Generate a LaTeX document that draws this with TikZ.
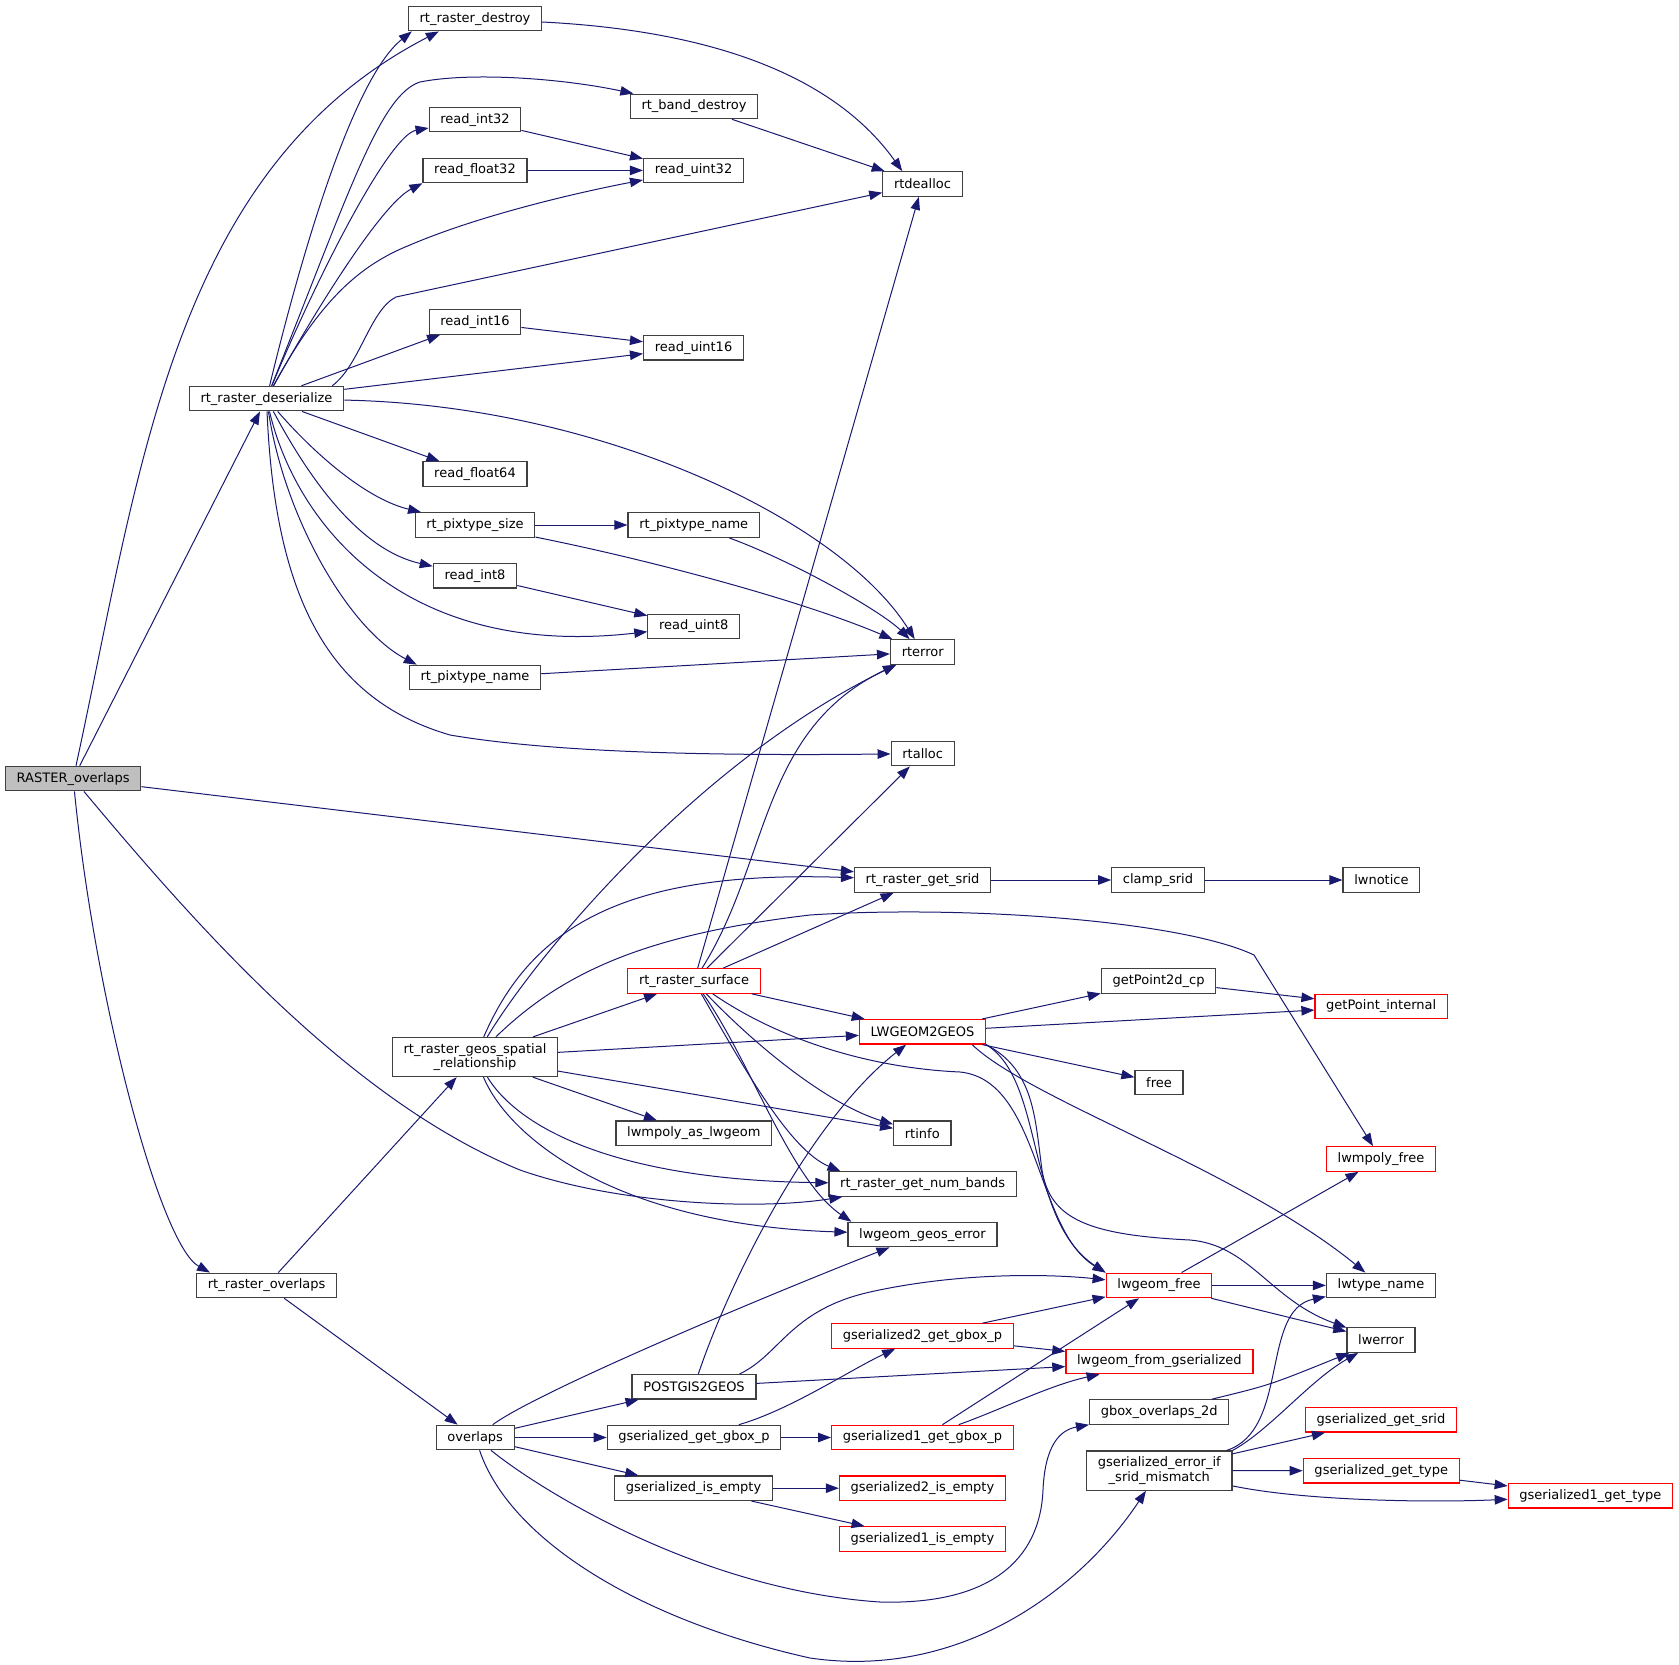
\documentclass[tikz,border=0pt]{standalone}
\usepackage{fontspec}
\setmainfont{DejaVu Sans}
\usetikzlibrary{arrows.meta}
\definecolor{edgeblue}{RGB}{25,25,112}
\definecolor{rootgray}{RGB}{191,191,191}
\definecolor{boxgray}{RGB}{64,64,64}

\begin{document}
\begin{tikzpicture}[x=1pt, y=-1pt,
    fn/.style={draw=boxgray, line width=1.2pt, fill=white, rectangle, inner xsep=11.2pt, inner ysep=2pt,
        minimum height=24.5pt, align=center, font=\fontsize{13}{14.6}\selectfont},
    trunc/.style={fn, draw=red},
    root/.style={fn, fill=rootgray},
    twoline/.style={minimum height=39.1pt},
    callarr/.style={draw=edgeblue, line width=1pt, -{Triangle[length=13pt,width=9.5pt]}}]
    \useasboundingbox (0,0) rectangle (1679,1665);

    \node[root] (rasov) at (73.2,778.6) {RASTER\_overlaps};
    \node[fn] (deser) at (266.5,398.6) {rt\_raster\_deserialize};
    \node[fn] (rovl) at (266.6,1285.4) {rt\_raster\_overlaps};
    \node[fn] (rdestroy) at (475,18.6) {rt\_raster\_destroy};
    \node[fn] (bdestroy) at (694,106.4) {rt\_band\_destroy};
    \node[fn] (ri32) at (475,119.6) {read\_int32};
    \node[fn] (rf32) at (475,170.4) {read\_float32};
    \node[fn] (ru32) at (693.5,170.4) {read\_uint32};
    \node[fn] (ri16) at (475,322) {read\_int16};
    \node[fn] (ru16) at (693.5,347.7) {read\_uint16};
    \node[fn] (rf64) at (475,474) {read\_float64};
    \node[fn] (ptsize) at (475,525) {rt\_pixtype\_size};
    \node[fn] (ptnamea) at (693.7,525) {rt\_pixtype\_name};
    \node[fn] (ri8) at (475,575.7) {read\_int8};
    \node[fn] (ptnameb) at (475,677.5) {rt\_pixtype\_name};
    \node[fn] (dealloc) at (922.5,184) {rtdealloc};
    \node[fn] (ru8) at (693.7,626.4) {read\_uint8};
    \node[fn] (rterr) at (922.7,652) {rterror};
    \node[fn] (ralloc) at (922.7,753.6) {rtalloc};
    \node[fn] (rsrid) at (922.6,880) {rt\_raster\_get\_srid};
    \node[trunc] (surf) at (694,981) {rt\_raster\_surface};
    \node[trunc] (l2g) at (922.5,1031.8) {LWGEOM2GEOS};
    \node[fn, twoline] (geosrel) at (475,1057) {rt\_raster\_geos\_spatial\\\_relationship};
    \node[fn] (clamp) at (1158,880) {clamp\_srid};
    \node[fn] (notice) at (1381.4,880) {lwnotice};
    \node[fn] (gp2d) at (1158.6,981) {getPoint2d\_cp};
    \node[trunc] (gpint) at (1381.2,1006.4) {getPoint\_internal};
    \node[fn] (free) at (1159,1082.5) {free};
    \node[fn] (mpasgeom) at (693.8,1133.2) {lwmpoly\_as\_lwgeom};
    \node[fn] (rinfo) at (922.3,1133.2) {rtinfo};
    \node[fn] (nbands) at (922.7,1184) {rt\_raster\_get\_num\_bands};
    \node[fn] (geoserr) at (922.5,1234.6) {lwgeom\_geos\_error};
    \node[trunc] (mpfree) at (1381,1159) {lwmpoly\_free};
    \node[trunc] (gfree) at (1159,1285.4) {lwgeom\_free};
    \node[fn] (tname) at (1381,1285.4) {lwtype\_name};
    \node[fn] (lwerr) at (1381,1340) {lwerror};
    \node[trunc] (g2gbox) at (922.5,1336) {gserialized2\_get\_gbox\_p};
    \node[trunc] (fromgs) at (1159.4,1361.5) {lwgeom\_from\_gserialized};
    \node[fn] (p2g) at (694,1386.8) {POSTGIS2GEOS};
    \node[fn] (gboxov) at (1159.2,1412) {gbox\_overlaps\_2d};
    \node[trunc] (getsrid) at (1381,1419.8) {gserialized\_get\_srid};
    \node[fn] (ovl) at (475.2,1437.5) {overlaps};
    \node[fn] (ggbox) at (694,1437.5) {gserialized\_get\_gbox\_p};
    \node[trunc] (g1gbox) at (922.5,1437.5) {gserialized1\_get\_gbox\_p};
    \node[fn, twoline] (sridmm) at (1159.3,1470.6) {gserialized\_error\_if\\\_srid\_mismatch};
    \node[trunc] (gettype) at (1381.3,1470.8) {gserialized\_get\_type};
    \node[trunc] (g1type) at (1590.4,1495.8) {gserialized1\_get\_type};
    \node[fn] (isempty) at (693.6,1488.2) {gserialized\_is\_empty};
    \node[trunc] (g2empty) at (922.4,1488.2) {gserialized2\_is\_empty};
    \node[trunc] (g1empty) at (922.4,1539) {gserialized1\_is\_empty};

    \draw[callarr] (rasov) .. controls (140,472) and (172,169) .. ([xshift=31pt]rdestroy.south west);
    \draw[callarr] (rasov) -- (deser);
    \draw[callarr] (rasov) -- (rsrid);
    \draw[callarr] (rasov) .. controls (200,930) and (350,1100) .. (520,1170) .. controls (620,1205) and (760,1210) .. (nbands);
    \draw[callarr] (rasov) .. controls (95,1000) and (160,1245) .. ([xshift=14pt]rovl.north west);

    \draw[callarr] (deser) .. controls (300,260) and (352,79) .. ([xshift=4pt]rdestroy.south west);
    \draw[callarr] (deser) .. controls (350,190) and (380,95) .. (420,82) .. controls (470,72) and (560,78) .. (bdestroy);
    \draw[callarr] (deser) .. controls (320,270) and (390,135) .. (ri32);
    \draw[callarr] (deser) .. controls (310,320) and (380,205) .. (rf32.south west);
    \draw[callarr] (deser) .. controls (320,300) and (360,265) .. (410,245) .. controls (480,215) and (580,192) .. (ru32);
    \draw[callarr] ([xshift=-12pt]deser.north east) .. controls (360,365) and (370,310) .. (396,297) -- (dealloc);
    \draw[callarr] (deser) -- (ri16);
    \draw[callarr] (deser) -- (ru16);
    \draw[callarr] (deser) .. controls (600,405) and (840,520) .. (rterr);
    \draw[callarr] (deser) -- (rf64);
    \draw[callarr] (deser) .. controls (320,460) and (370,500) .. (ptsize);
    \draw[callarr] (deser) .. controls (310,480) and (360,550) .. (ri8);
    \draw[callarr] (deser) .. controls (295,520) and (400,660) .. (ru8);
    \draw[callarr] (deser) .. controls (285,520) and (350,630) .. ([xshift=8pt]ptnameb.north west);
    \draw[callarr] (deser) .. controls (275,600) and (330,700) .. (450,735) .. controls (550,752) and (700,756) .. (ralloc);

    \draw[callarr] (ri32) -- (ru32);
    \draw[callarr] (rf32) -- (ru32);
    \draw[callarr] (ri16) -- (ru16);
    \draw[callarr] (ri8) -- (ru8);
    \draw[callarr] (ptsize) -- (ptnamea);
    \draw[callarr] (bdestroy) -- (dealloc);
    \draw[callarr] (rdestroy) .. controls (700,30) and (830,70) .. ([xshift=20pt]dealloc.north west);
    \draw[callarr] (ptsize) .. controls (650,560) and (800,600) .. (rterr);
    \draw[callarr] (ptnamea) .. controls (790,560) and (880,610) .. (rterr);
    \draw[callarr] (ptnameb) -- (rterr);

    \draw[callarr] (rovl) -- (geosrel);
    \draw[callarr] (rovl) -- (ovl);

    \draw[callarr] (geosrel) .. controls (540,950) and (700,760) .. (rterr);
    \draw[callarr] (geosrel) .. controls (530,930) and (620,870) .. (rsrid);
    \draw[callarr] (geosrel) .. controls (560,975) and (640,935) .. (810,915) .. controls (960,905) and (1180,920) .. (1254,955) -- (mpfree);
    \draw[callarr] (geosrel) -- (surf);
    \draw[callarr] (geosrel) -- (l2g);
    \draw[callarr] (geosrel) -- (rinfo);
    \draw[callarr] (geosrel) -- (mpasgeom);
    \draw[callarr] (geosrel) .. controls (520,1130) and (620,1180) .. (nbands);
    \draw[callarr] (geosrel) .. controls (510,1140) and (620,1225) .. (geoserr);

    \draw[callarr] (surf) -- (dealloc);
    \draw[callarr] (surf) .. controls (770,860) and (760,730) .. (rterr);
    \draw[callarr] (surf) -- (ralloc);
    \draw[callarr] (surf) -- (rsrid);
    \draw[callarr] (surf) -- (l2g);
    \draw[callarr] (surf) .. controls (780,1040) and (870,1068) .. (960,1072) .. controls (1040,1080) and (1035,1230) .. (gfree.north west);
    \draw[callarr] (surf) .. controls (760,1050) and (830,1105) .. (rinfo);
    \draw[callarr] (surf) .. controls (745,1070) and (790,1150) .. ([xshift=12pt]nbands.north west);
    \draw[callarr] (surf) .. controls (750,1060) and (790,1180) .. ([xshift=4pt]geoserr.north west);

    \draw[callarr] (rsrid) -- (clamp);
    \draw[callarr] (clamp) -- (notice);

    \draw[callarr] (l2g) -- (gp2d);
    \draw[callarr] (l2g) -- (gpint);
    \draw[callarr] (l2g) -- (free);
    \draw[callarr] ([xshift=-14pt]l2g.south east) .. controls (1030,1100) and (1240,1170) .. (tname);
    \draw[callarr] (l2g.south east) .. controls (1035,1070) and (1035,1120) .. (1042,1170) .. controls (1050,1220) and (1090,1235) .. (1190,1240) .. controls (1250,1245) and (1270,1300) .. (lwerr);
    \draw[callarr] (l2g.south east) .. controls (1045,1080) and (1025,1220) .. (gfree.north west);
    \draw[callarr] (gp2d) -- (gpint);

    \draw[callarr] (gfree) -- (mpfree);
    \draw[callarr] (gfree) -- (tname);
    \draw[callarr] (gfree) -- (lwerr);

    \draw[callarr] (ovl) .. controls (540,1390) and (780,1290) .. (geoserr);
    \draw[callarr] (ovl) -- (p2g);
    \draw[callarr] (ovl) -- (ggbox);
    \draw[callarr] (ovl) -- (isempty);
    \draw[callarr] (ovl) .. controls (540,1490) and (700,1590) .. (880,1602) .. controls (990,1605) and (1040,1560) .. (1043,1490) .. controls (1045,1445) and (1060,1430) .. (gboxov);
    \draw[callarr] (ovl) .. controls (510,1540) and (640,1620) .. (810,1658) .. controls (960,1680) and (1080,1590) .. (sridmm);

    \draw[callarr] (p2g) .. controls (730,1280) and (810,1120) .. (l2g);
    \draw[callarr] ([xshift=-17pt]p2g.north east) .. controls (780,1355) and (790,1310) .. (870,1292) .. controls (960,1272) and (1050,1274) .. (gfree);
    \draw[callarr] (p2g) -- (fromgs);

    \draw[callarr] (ggbox) .. controls (790,1410) and (850,1370) .. (g2gbox);
    \draw[callarr] (ggbox) -- (g1gbox);
    \draw[callarr] (g2gbox) -- (gfree);
    \draw[callarr] (g2gbox) -- (fromgs);
    \draw[callarr] (g1gbox) -- (gfree);
    \draw[callarr] (g1gbox) .. controls (1000,1410) and (1050,1385) .. (fromgs);

    \draw[callarr] (isempty) -- (g2empty);
    \draw[callarr] (isempty) -- (g1empty);

    \draw[callarr] (gboxov) .. controls (1270,1385) .. (lwerr);

    \draw[callarr] ([xshift=-6pt]sridmm.north east) .. controls (1290,1430) and (1260,1310) .. (tname);
    \draw[callarr] (sridmm.north east) .. controls (1270,1430) and (1310,1380) .. (lwerr);
    \draw[callarr] (sridmm) -- (getsrid);
    \draw[callarr] (sridmm) -- (gettype);
    \draw[callarr] (sridmm) .. controls (1300,1500) and (1420,1503) .. (g1type);
    \draw[callarr] (gettype) -- (g1type);
\end{tikzpicture}
\end{document}
